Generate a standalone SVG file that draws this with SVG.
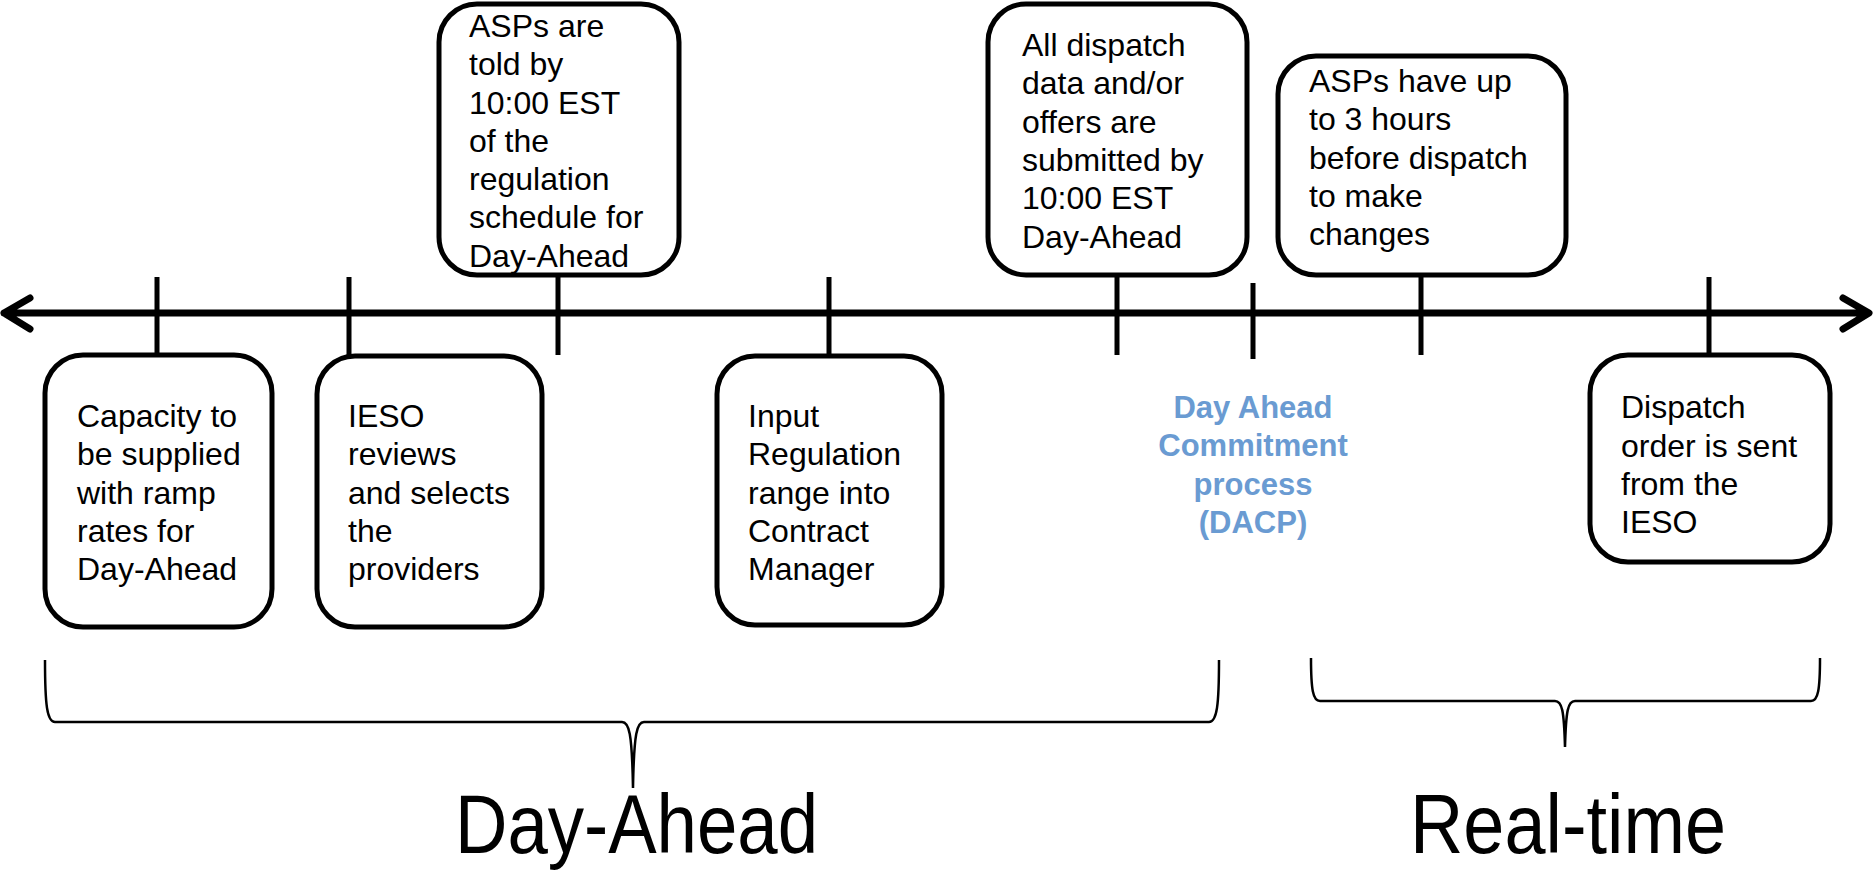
<svg xmlns="http://www.w3.org/2000/svg" width="1874" height="872" viewBox="0 0 1874 872">
<style>
.box{fill:#fff;stroke:#000;stroke-width:5}
.t{font-family:"Liberation Sans",Arial,sans-serif;font-size:32px;fill:#000}
.tick{stroke:#000;stroke-width:5;fill:none}
.axis{stroke:#000;stroke-width:7;fill:none;stroke-linecap:round;stroke-linejoin:round}
.brace{stroke:#000;stroke-width:2.5;fill:none}
.dacp{font-family:"Liberation Sans",Arial,sans-serif;font-size:31px;font-weight:bold;fill:#6a9bd2;text-anchor:middle}
.big{font-family:"Liberation Sans",Arial,sans-serif;font-size:84px;fill:#000}
</style>
<g id="connectors">
<path class="axis" d="M4,313 H1868 M30,298 L4,313 L30,329 M1843,298 L1869,313 L1843,329"/>
<path class="tick" d="M157,277 V355 M349,277 V356 M558,275 V355 M829,277 V355 M1117,275 V355 M1253,283 V359 M1421,275 V355 M1709,277 V355"/>
</g>
<g id="n1">
<rect class="box" x="45" y="355" width="227" height="272" rx="38"/>
<text class="t"><tspan x="77" y="427">Capacity to</tspan><tspan x="77" y="465">be supplied</tspan><tspan x="77" y="504">with ramp</tspan><tspan x="77" y="542">rates for</tspan><tspan x="77" y="580">Day-Ahead</tspan></text>
</g>
<g id="n2">
<rect class="box" x="317" y="356" width="225" height="271" rx="38"/>
<text class="t"><tspan x="348" y="427">IESO</tspan><tspan x="348" y="465">reviews</tspan><tspan x="348" y="504">and selects</tspan><tspan x="348" y="542">the</tspan><tspan x="348" y="580">providers</tspan></text>
</g>
<g id="n3">
<rect class="box" x="439" y="4" width="240" height="271" rx="38"/>
<text class="t"><tspan x="469" y="37">ASPs are</tspan><tspan x="469" y="75">told by</tspan><tspan x="469" y="114">10:00 EST</tspan><tspan x="469" y="152">of the</tspan><tspan x="469" y="190">regulation</tspan><tspan x="469" y="228">schedule for</tspan><tspan x="469" y="267">Day-Ahead</tspan></text>
</g>
<g id="n4">
<rect class="box" x="717" y="356" width="225" height="269" rx="38"/>
<text class="t"><tspan x="748" y="427">Input</tspan><tspan x="748" y="465">Regulation</tspan><tspan x="748" y="504">range into</tspan><tspan x="748" y="542">Contract</tspan><tspan x="748" y="580">Manager</tspan></text>
</g>
<g id="n5">
<rect class="box" x="988" y="4" width="259" height="271" rx="38"/>
<text class="t"><tspan x="1022" y="56">All dispatch</tspan><tspan x="1022" y="94">data and/or</tspan><tspan x="1022" y="133">offers are</tspan><tspan x="1022" y="171">submitted by</tspan><tspan x="1022" y="209">10:00 EST</tspan><tspan x="1022" y="248">Day-Ahead</tspan></text>
</g>
<g id="n6">
<rect class="box" x="1278" y="56" width="288" height="219" rx="38"/>
<text class="t"><tspan x="1309" y="92">ASPs have up</tspan><tspan x="1309" y="130">to 3 hours</tspan><tspan x="1309" y="169">before dispatch</tspan><tspan x="1309" y="207">to make</tspan><tspan x="1309" y="245">changes</tspan></text>
</g>
<g id="n7">
<rect class="box" x="1590" y="355" width="240" height="207" rx="38"/>
<text class="t"><tspan x="1621" y="418">Dispatch</tspan><tspan x="1621" y="457">order is sent</tspan><tspan x="1621" y="495">from the</tspan><tspan x="1621" y="533">IESO</tspan></text>
</g>
<g id="dacp">
<text class="dacp"><tspan x="1253" y="418">Day Ahead</tspan><tspan x="1253" y="456">Commitment</tspan><tspan x="1253" y="495">process</tspan><tspan x="1253" y="533">(DACP)</tspan></text>
</g>
<g id="braces">
<path class="brace" d="M45,660 C45,705 47,722 55,722 L622,722 C629,722 632,732 633,788 C634,732 637,722 644,722 L1209,722 C1217,722 1219,705 1219,660"/>
<path class="brace" d="M1311,658 C1311,690 1313,701 1320,701 L1555,701 C1562,701 1564,710 1565,747 C1566,710 1568,701 1575,701 L1811,701 C1818,701 1820,690 1820,658"/>
</g>
<g id="labels">
<text class="big" x="455" y="853" textLength="363" lengthAdjust="spacingAndGlyphs">Day-Ahead</text>
<text class="big" x="1410" y="853" textLength="316" lengthAdjust="spacingAndGlyphs">Real-time</text>
</g>
</svg>
